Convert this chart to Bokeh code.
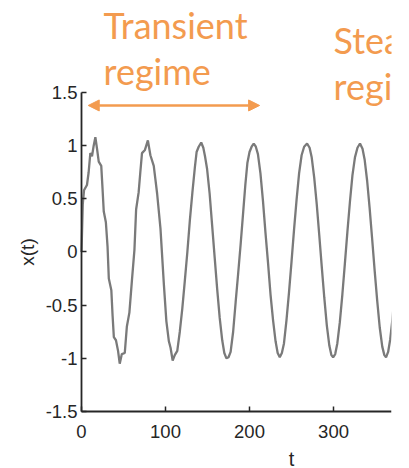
import math
from bokeh.plotting import figure
from bokeh.models import Range1d, FixedTicker, Arrow, NormalHead
from bokeh.core.properties import value
from bokeh.embed import file_html
from bokeh.resources import INLINE

# ---- data ----
t = [0, 1.5, 3, 6.5, 8.5, 10.5, 12.5, 14.5, 16.5, 18.5, 20.5, 23.5, 25, 26.5, 29, 31,
     32.5, 35.5, 37, 38.5, 41, 43.5, 45.5, 48, 51.5, 54, 57, 60, 63, 65, 68, 70, 72,
     75.5, 79, 82, 86, 88, 90, 94, 98, 101, 104, 106, 108.5, 111, 114, 117, 120, 123,
     126, 129, 132, 135, 137, 139.5, 142.5, 145, 147, 149.5, 152.5, 155.5, 158.5,
     161.5, 164.5, 167.5, 170, 172.5, 175, 177.5, 180.5, 183.5, 186.5, 189.5, 192.5,
     195, 197.5, 200, 202.5, 205, 207.5, 210, 213, 216, 219, 222, 225, 228, 231,
     233.5, 236, 238.5, 241, 244, 247, 250, 253, 256, 259, 262, 265, 268.5, 271.5,
     274, 277, 280, 283, 286, 289, 292, 295, 297.5, 299.5, 302, 304.5, 307.5, 310.5,
     313.5, 316.5, 319.5, 322.5, 325.5, 328.5, 331.5, 334.5, 337, 340, 343, 346, 349,
     352, 355, 358, 360.5, 362.5, 365, 367.5, 370, 373]
x = [0.0, 0.45, 0.58, 0.63, 0.75, 0.93, 0.90, 1.00, 1.08, 0.97, 0.85, 0.81, 0.60, 0.38,
     0.28, 0.05, -0.25, -0.36, -0.60, -0.80, -0.83, -0.93, -1.05, -0.96, -0.95, -0.70,
     -0.57, -0.27, 0.02, 0.40, 0.56, 0.75, 0.93, 0.96, 1.05, 0.91, 0.81, 0.68, 0.55,
     0.22, -0.30, -0.65, -0.84, -0.90, -1.02, -0.97, -0.93, -0.75, -0.53, -0.27, 0.0,
     0.30, 0.56, 0.80, 0.94, 0.99, 1.03, 0.98, 0.90, 0.78, 0.55, 0.25, -0.05, -0.35,
     -0.62, -0.83, -0.95, -1.00, -0.99, -0.94, -0.75, -0.47, -0.20, 0.08, 0.38, 0.63,
     0.84, 0.94, 0.99, 1.02, 0.99, 0.92, 0.74, 0.48, 0.18, -0.10, -0.40, -0.64, -0.84,
     -0.95, -0.99, -0.95, -0.86, -0.64, -0.38, -0.09, 0.21, 0.49, 0.74, 0.91, 0.99,
     1.02, 0.98, 0.89, 0.70, 0.45, 0.16, -0.14, -0.43, -0.69, -0.88, -0.97, -0.99,
     -0.96, -0.86, -0.66, -0.40, -0.11, 0.19, 0.47, 0.72, 0.89, 0.98, 1.02, 0.97,
     0.87, 0.67, 0.41, 0.12, -0.18, -0.46, -0.71, -0.89, -0.97, -0.99, -0.94, -0.82,
     -0.64, -0.38]

x_ticks = [0, 100, 200, 300]
x_tick_labels = ["0", "100", "200", "300"]
y_ticks = [-1.5, -1, -0.5, 0, 0.5, 1, 1.5]
y_tick_labels = ["-1.5", "-1", "-0.5", "0", "0.5", "1", "1.5"]
x_axis_title = "t"
y_axis_title = "x(t)"
transient_text = ["Transient", "regime"]
steady_text = ["Steady", "regime"]

ORANGE = "#F39B4F"
AX = "#262626"

# frame spans the canvas (except a right strip) so that all texts are glyphs
p = figure(width=405, height=468, output_backend="svg", toolbar_location=None,
           x_range=Range1d(-96.43, 369), y_range=Range1d(-2.036, 2.365),
           min_border_left=0, min_border_right=14, min_border_top=0,
           min_border_bottom=0)
p.outline_line_color = None
p.grid.visible = False
p.background_fill_color = "white"
p.border_fill_color = "white"

for ax, ticks, labels in ((p.xaxis[0], x_ticks, x_tick_labels),
                          (p.yaxis[0], y_ticks, y_tick_labels)):
    ax.ticker = FixedTicker(ticks=ticks)
    ax.major_label_overrides = {float(k): v for k, v in zip(ticks, labels)}
    ax.major_tick_in = 5
    ax.major_tick_out = 0
    ax.minor_tick_line_color = None
    ax.axis_line_width = 1.8
    ax.axis_line_color = AX
    ax.major_tick_line_color = AX
    ax.major_tick_line_width = 1.5
    ax.major_label_text_font = "Liberation Sans"
    ax.major_label_text_font_size = "18.5px"
    ax.major_label_text_color = AX

p.yaxis.fixed_location = 0
p.xaxis.fixed_location = -1.5
p.yaxis.bounds = (-1.5, 1.5)
p.xaxis.bounds = (0, 369)
p.yaxis.major_label_standoff = 4
p.xaxis.major_label_standoff = 13

p.line(t, x, line_color="#7a7a7a", line_width=2.3)

p.text(x=[-64.3], y=[0], text=[y_axis_title], angle=math.pi / 2,
       text_align="center", text_baseline="middle",
       text_font=value("Liberation Sans"), text_font_size="19px", text_color=AX)
p.text(x=[250], y=[-1.945], text=[x_axis_title], text_align="center",
       text_baseline="middle", text_font=value("Liberation Sans"),
       text_font_size="20px", text_color=AX)

p.text(x=[26.2, 26.2], y=[2.13, 1.70], text=transient_text,
       text_font=value("Lato"), text_font_size="36px", text_color=ORANGE,
       text_baseline="alphabetic", text_align="left")
p.text(x=[300, 300], y=[1.99, 1.56], text=steady_text,
       text_font=value("Lato"), text_font_size="36px", text_color=ORANGE,
       text_baseline="alphabetic", text_align="left")

p.add_layout(Arrow(x_start=8, y_start=1.378, x_end=212, y_end=1.378,
                   line_color=ORANGE, line_width=2.5,
                   start=NormalHead(size=11, fill_color=ORANGE, line_color=ORANGE),
                   end=NormalHead(size=11, fill_color=ORANGE, line_color=ORANGE)))

open("out.html", "w").write(file_html(p, INLINE))
